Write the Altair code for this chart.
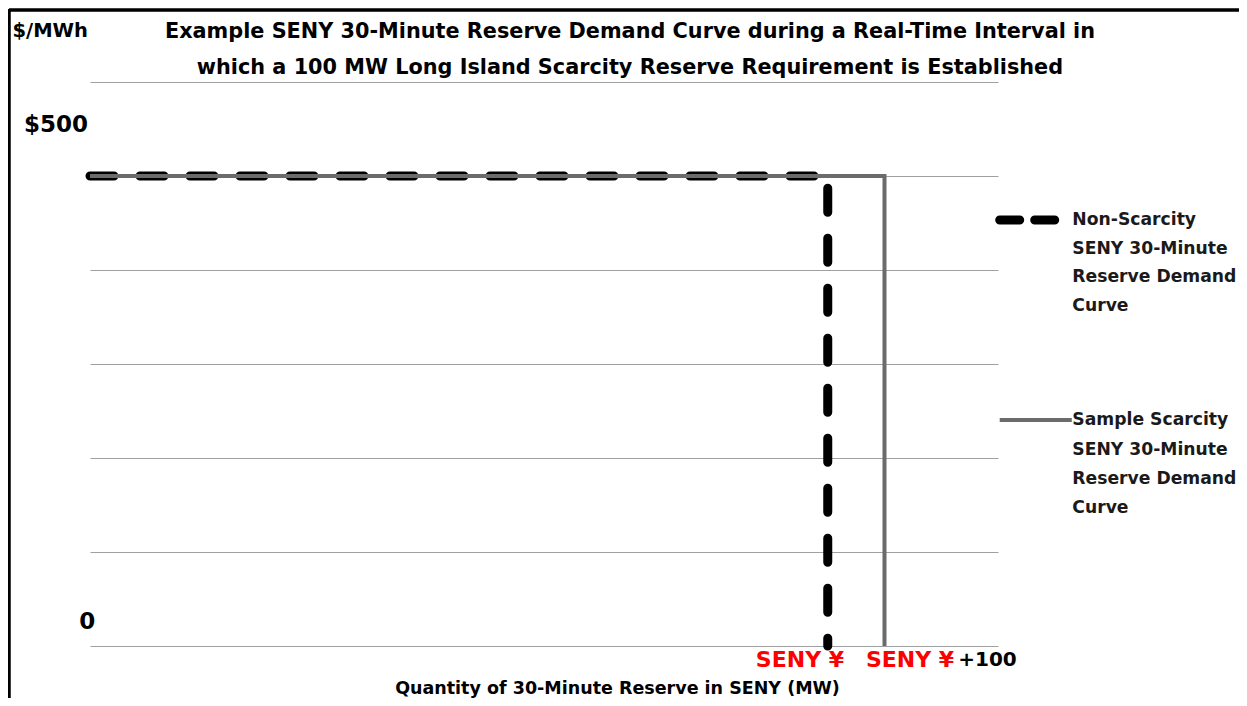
import altair as alt
import pandas as pd

# ---- data ----
nonscar_x = [0, 1300, 1300]
nonscar_y = [500, 500, 0]
scar_x = [0, 1400, 1400]
scar_y = [500, 500, 0]
grid_values = [0, 100, 200, 300, 400, 500, 600]

title_lines = ["Example SENY 30-Minute Reserve Demand Curve during a Real-Time Interval in",
               "which a 100 MW Long Island Scarcity Reserve Requirement is Established"]
title_x = [951.5, 951.5]
title_y = [653.2, 614.9]

ylab_text = ["$500", "0"]
ylab_x = [-60, -5]
ylab_y = [554, 25.5]

xlab_text = ["SENY \u00a5", "SENY \u00a5", "+100"]
xlab_x = [1251, 1445, 1581.5]
xlab_y = [-15, -15, -15]
xlab_color = ["#ff0000", "#ff0000", "#000000"]
xlab_size = [22, 22, 20]

leg1_lines = ["Non-Scarcity", "SENY 30-Minute", "Reserve Demand", "Curve"]
leg1_y = [453.2, 422.3, 392.6, 361.7]
leg2_lines = ["Sample Scarcity", "SENY 30-Minute", "Reserve Demand", "Curve"]
leg2_y = [240.4, 208.5, 177.7, 146.8]
leg_text_x = 1731
leg1_sw_x = [1603, 1700]
leg1_sw_y = [453.2, 453.2]
leg2_sw_x = [1603, 1730]
leg2_sw_y = [240.4, 240.4]

FONT = "DejaVu Sans"
xs = alt.Scale(domain=[0, 1600], nice=False, zero=False)
ys = alt.Scale(domain=[0, 600], nice=False, zero=False)

df_non = pd.DataFrame({"x": nonscar_x, "y": nonscar_y, "o": range(len(nonscar_x))})
df_scar = pd.DataFrame({"x": scar_x, "y": scar_y, "o": range(len(scar_x))})
df_title = pd.DataFrame({"t": title_lines, "x": title_x, "y": title_y})
df_ylab = pd.DataFrame({"t": ylab_text, "x": ylab_x, "y": ylab_y})
df_xlab = pd.DataFrame({"t": xlab_text, "x": xlab_x, "y": xlab_y, "c": xlab_color,
                        "s": xlab_size})
df_leg_text = pd.DataFrame({
    "t": leg1_lines + leg2_lines,
    "x": [leg_text_x] * 8,
    "y": leg1_y + leg2_y,
})
df_sw1 = pd.DataFrame({"x": leg1_sw_x, "y": leg1_sw_y, "o": [0, 1]})
df_sw2 = pd.DataFrame({"x": leg2_sw_x, "y": leg2_sw_y, "o": [0, 1]})

non_line = alt.Chart(df_non).mark_line(
    color="#000000", strokeWidth=9, strokeDash=[24, 26], strokeCap="round"
).encode(
    x=alt.X("x:Q", scale=xs, axis=alt.Axis(
        title="Quantity of 30-Minute Reserve in SENY (MW)", labels=False, ticks=False,
        domain=False, grid=False, titleFont=FONT, titleFontSize=17.5, titleFontWeight="bold",
        titleColor="#000000", titleX=527, titleY=42, titleBaseline="middle",
        titleAlign="center")),
    y=alt.Y("y:Q", scale=ys, axis=alt.Axis(
        values=grid_values, title="$/MWh", labels=False, ticks=False, domain=False,
        grid=True, gridColor="#a0a0a0", gridWidth=1.2, titleFont=FONT, titleFontSize=19.5,
        titleFontWeight="bold", titleColor="#000000", titleAngle=0, titleX=-78, titleY=-52,
        titleAlign="left", titleBaseline="middle")),
    order="o:Q",
)

scar_line = alt.Chart(df_scar).mark_line(color="#6b6b6b", strokeWidth=4).encode(
    x=alt.X("x:Q", scale=xs), y=alt.Y("y:Q", scale=ys), order="o:Q"
)

sw1 = alt.Chart(df_sw1).mark_line(
    color="#000000", strokeWidth=9, strokeDash=[20, 15], strokeCap="round", clip=False
).encode(x=alt.X("x:Q", scale=xs), y=alt.Y("y:Q", scale=ys), order="o:Q")

sw2 = alt.Chart(df_sw2).mark_line(color="#6b6b6b", strokeWidth=4, clip=False).encode(
    x=alt.X("x:Q", scale=xs), y=alt.Y("y:Q", scale=ys), order="o:Q"
)

title = alt.Chart(df_title).mark_text(
    font=FONT, fontSize=20.8, fontWeight="bold", color="#000000", align="center",
    baseline="middle"
).encode(x=alt.X("x:Q", scale=xs), y=alt.Y("y:Q", scale=ys), text="t:N")

ylab = alt.Chart(df_ylab).mark_text(
    font=FONT, fontSize=23, fontWeight="bold", color="#000000", align="center", baseline="middle"
).encode(x=alt.X("x:Q", scale=xs), y=alt.Y("y:Q", scale=ys), text="t:N")

xlab = alt.Chart(df_xlab).mark_text(
    font=FONT, fontWeight="bold", align="center", baseline="middle"
).encode(x=alt.X("x:Q", scale=xs), y=alt.Y("y:Q", scale=ys), text="t:N",
         color=alt.Color("c:N", scale=None), size=alt.Size("s:Q", scale=None))

legtext = alt.Chart(df_leg_text).mark_text(
    font=FONT, fontSize=17.2, fontWeight="bold", color="#1a1a1a", align="left",
    baseline="middle"
).encode(x=alt.X("x:Q", scale=xs), y=alt.Y("y:Q", scale=ys), text="t:N")

frame_top = alt.Chart(df_ylab).mark_rule(color="#000000", strokeWidth=3).encode(
    x=alt.value(-81), x2=alt.value(1150), y=alt.value(-72)
)
frame_left = alt.Chart(df_ylab).mark_rule(color="#000000", strokeWidth=3).encode(
    x=alt.value(-81), y=alt.value(-73), y2=alt.value(700)
)

chart = alt.layer(
    non_line, scar_line, sw1, sw2, title, ylab, xlab, legtext, frame_top, frame_left
).properties(
    width=908, height=564,
    padding={"left": 82, "top": 74, "right": 241, "bottom": 52},
    autosize=alt.AutoSizeParams(type="none"),
).configure(
    background="#ffffff", view=alt.ViewConfig(stroke="transparent", strokeWidth=0)
)

chart.save("out.html", embed_options={"renderer": "svg", "actions": False})
